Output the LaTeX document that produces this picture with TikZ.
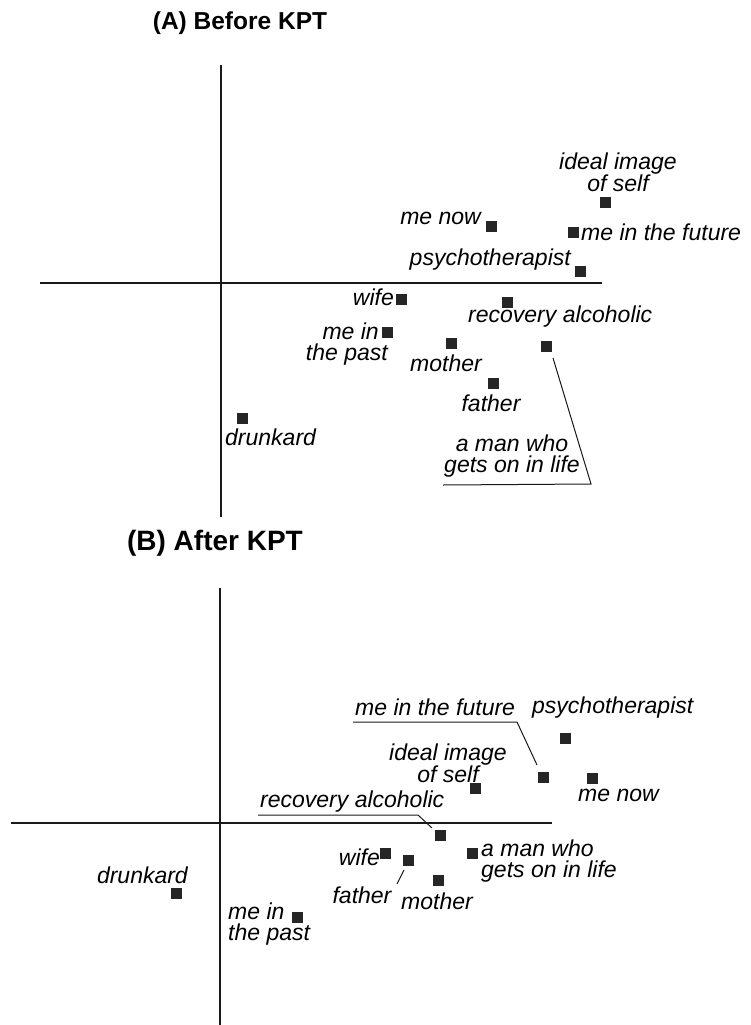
\documentclass[tikz,border=0pt]{standalone}
\usepackage{fontspec}
\setmainfont{Liberation Sans}
\begin{document}
\begin{tikzpicture}[x=1pt,y=-1pt,
  axis/.style={line width=2pt,black!90},
  leader/.style={line width=1pt,black!90},
  sq/.style={rectangle,minimum size=11pt,inner sep=0pt,fill=black!85,draw=none},
  lab/.style={inner sep=0pt,font=\itshape\fontsize{23}{21}\selectfont},
  ttlA/.style={inner sep=0pt,font=\bfseries\fontsize{24.5}{26}\selectfont},
  ttlB/.style={inner sep=0pt,font=\bfseries\fontsize{28}{30}\selectfont}]
\useasboundingbox (0,0) rectangle (750,1025);

% ---------------- Panel A ----------------
\node[ttlA] (titleA) at (240,23) {(A) Before KPT};
\coordinate (aT) at (221,65);
\coordinate (aB) at (221,517);
\coordinate (aL) at (40,283);
\coordinate (aR) at (602,283);
\draw[axis] (aT) -- (aB);
\draw[axis] (aL) -- (aR);

\node[sq] (idealA) at (605,202) {};
\node[lab,align=center] (idealAl) at (618,172) {ideal image\\of self};
\node[sq] (menowA) at (491,226) {};
\node[lab,anchor=east] (menowAl) at (481,218) {me now};
\node[sq] (futureA) at (573,232) {};
\node[lab,anchor=west] (futureAl) at (581,232) {me in the future};
\node[sq] (psychoA) at (580,271) {};
\node[lab,anchor=east] (psychoAl) at (571,260) {psychotherapist};
\node[sq] (wifeA) at (401,299) {};
\node[lab,anchor=east] (wifeAl) at (394,297) {wife};
\node[sq] (recoveryA) at (507,302) {};
\node[lab,anchor=west] (recoveryAl) at (468,317) {recovery alcoholic};
\node[sq] (pastA) at (387,332) {};
\node[lab,anchor=east,align=right] (pastAl) at (388,344) {me in\hspace*{9pt}\\the past};
\node[sq] (motherA) at (451,343) {};
\node[lab] (motherAl) at (446,363) {mother};
\node[sq] (fatherA) at (493,383) {};
\node[lab] (fatherAl) at (491,403) {father};
\node[sq] (manA) at (546,346) {};
\node[lab,align=center] (manAl) at (512,456) {a man who\\gets on in life};
\coordinate (manAc) at (591,484);
\coordinate (manAe) at (443,485);
\draw[leader] ([shift={(7,12)}]manA.center) -- (manAc) -- (manAe);
\node[sq] (drunkA) at (242,418) {};
\node[lab,anchor=west] (drunkAl) at (225,437) {drunkard};

% ---------------- Panel B ----------------
\node[ttlB] (titleB) at (215,543) {(B) After KPT};
\coordinate (bT) at (220,588);
\coordinate (bB) at (220,1025);
\coordinate (bL) at (11,823);
\coordinate (bR) at (552,823);
\draw[axis] (bT) -- (bB);
\draw[axis] (bL) -- (bR);

\node[sq] (futureB) at (543,777) {};
\node[lab,anchor=west] (futureBl) at (355,707) {me in the future};
\coordinate (futureBe) at (353,722);
\coordinate (futureBc) at (517,722);
\draw[leader] (futureBe) -- (futureBc) -- ([shift={(-6,-12)}]futureB.center);
\node[sq] (psychoB) at (565,738) {};
\node[lab,anchor=west] (psychoBl) at (532,708) {psychotherapist};
\node[sq] (idealB) at (475,788) {};
\node[lab,align=center] (idealBl) at (448,763) {ideal image\\of self};
\node[sq] (menowB) at (592,778) {};
\node[lab,anchor=west] (menowBl) at (578,795) {me now};
\node[sq] (recoveryB) at (440,835) {};
\node[lab,anchor=west] (recoveryBl) at (260,802) {recovery alcoholic};
\coordinate (recoveryBe) at (258,815);
\coordinate (recoveryBc) at (418,815);
\draw[leader] (recoveryBe) -- (recoveryBc) -- ([shift={(-8,-7)}]recoveryB.center);
\node[sq] (wifeB) at (385,853) {};
\node[lab,anchor=east] (wifeBl) at (380,857) {wife};
\node[sq] (fatherB) at (408,860) {};
\node[lab] (fatherBl) at (362,895) {father};
\draw[leader] ([shift={(-4,10)}]fatherB.center) -- ([shift={(-11,24)}]fatherB.center);
\node[sq] (motherB) at (438,880) {};
\node[lab] (motherBl) at (437,901) {mother};
\node[sq] (manB) at (472,853) {};
\node[lab,anchor=west,align=left] (manBl) at (481,861) {a man who\\gets on in life};
\node[sq] (pastB) at (297,917) {};
\node[lab,anchor=west,align=left] (pastBl) at (228,924) {me in\\the past};
\node[sq] (drunkB) at (176,893) {};
\node[lab,anchor=east] (drunkBl) at (188,875) {drunkard};
\end{tikzpicture}
\end{document}
